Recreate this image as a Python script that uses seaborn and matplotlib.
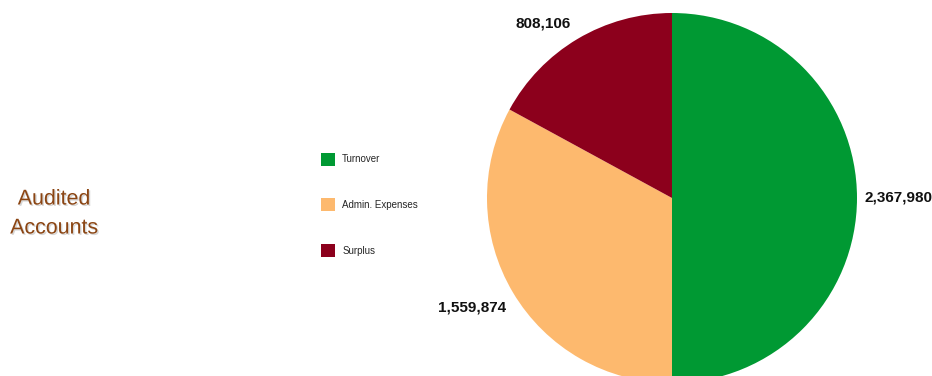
import numpy as np
import matplotlib
matplotlib.use("Agg")
import matplotlib.pyplot as plt
import matplotlib.patheffects as pe
from matplotlib.patches import Patch
import seaborn as sns

categories = ["Turnover", "Admin. Expenses", "Surplus"]
values = [2367980, 1559874, 808106]
colors = ["#009933", "#FDB96E", "#8C001C"]
title_lines = ["Audited", "Accounts"]

sns.set_theme(style="white")
plt.rcParams["font.family"] = ["Liberation Sans", "DejaVu Sans"]

W, H = 932, 376
fig = plt.figure(figsize=(W / 100, H / 100), dpi=100)
cx, cy, r = 672, 198, 185
ax = fig.add_axes([(cx - r) / W, (H - cy - r) / H, 2 * r / W, 2 * r / H])
wedges, _ = ax.pie(values, colors=colors, startangle=90, counterclock=False,
                   radius=1, wedgeprops=dict(linewidth=0))
ax.set_xlim(-1, 1)
ax.set_ylim(-1, 1)
ax.set_aspect("auto")
ax.axis("off")

# label placement: (distance, horizontal alignment, pixel offset)
label_style = [(1.043, "left", (0, 0)), (1.155, "center", (-16, 0)), (1.107, "right", (3, -2))]
for w, v, (d, ha, off) in zip(wedges, values, label_style):
    ang = np.deg2rad((w.theta1 + w.theta2) / 2)
    x, y = d * np.cos(ang), d * np.sin(ang)
    ax.annotate(f"{v:,}", xy=(x, y), xytext=(off[0] * 0.72, off[1] * 0.72),
                textcoords="offset points", ha=ha, va="center", fontsize=11,
                fontweight="bold", color="#111111", annotation_clip=False)

handles = [Patch(facecolor=c, edgecolor="none") for c in colors]
fig.legend(handles, categories, loc="upper left",
           bbox_to_anchor=(313 / W, 1 - 145 / H), frameon=False,
           fontsize=7, handlelength=1.45, handleheight=1.68,
           labelspacing=3.36, handletextpad=0.75, borderpad=0.3)

shadow = [pe.withSimplePatchShadow(offset=(1, -1), shadow_rgbFace="#bbbbbb", alpha=0.6)]
for line, yy in zip(title_lines, [199, 228]):
    fig.text(54 / W, 1 - yy / H, line, ha="center", va="center", fontsize=15.4,
             color="#8B4513", path_effects=shadow)

fig.savefig("out.png", dpi=100)
